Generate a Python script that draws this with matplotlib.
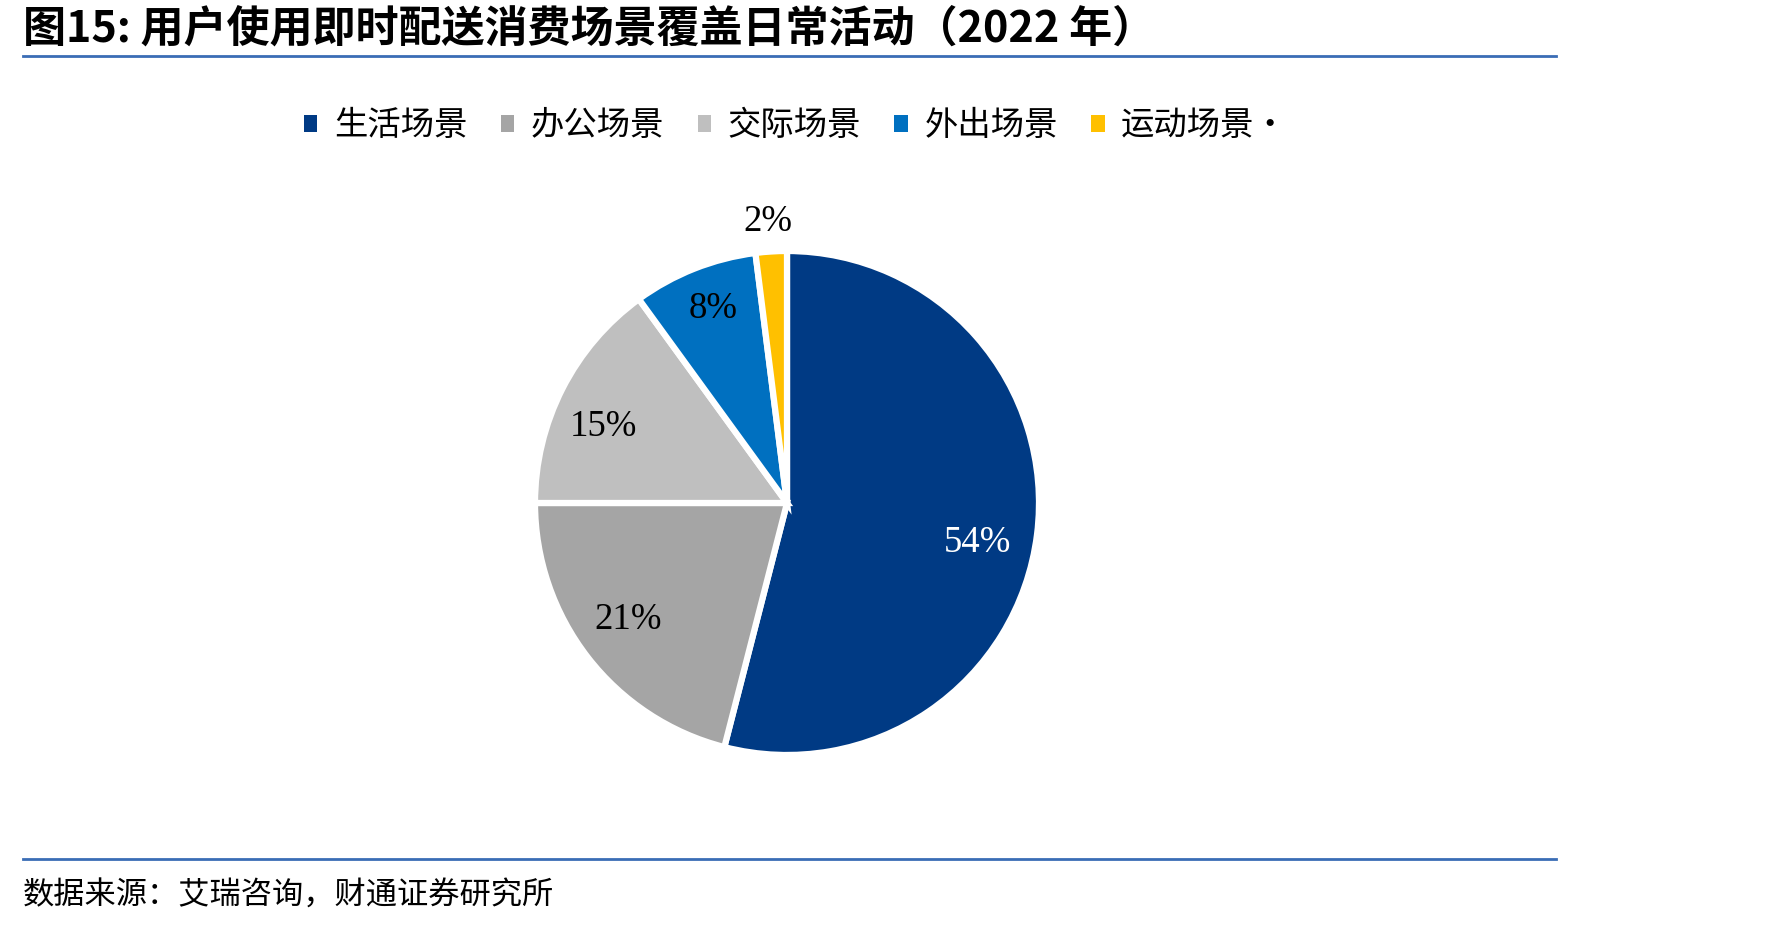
import matplotlib
matplotlib.use("Agg")
import matplotlib.pyplot as plt
from matplotlib.lines import Line2D
from matplotlib.patches import Patch

categories = ["生活场景", "办公场景", "交际场景", "外出场景", "运动场景·"]
values = [54, 21, 15, 8, 2]
colors = ["#003A84", "#A5A5A5", "#BFBFBF", "#0070C0", "#FFC000"]
title = "图15: 用户使用即时配送消费场景覆盖日常活动（2022 年）"
source = "数据来源：艾瑞咨询，财通证券研究所"
# label anchor positions in pie-radius units (text placement only)
label_pos = [(0.754, -0.156), (-0.629, -0.464), (-0.728, 0.304), (-0.295, 0.772), (-0.076, 1.116)]

W, H = 1771, 927
fig = plt.figure(figsize=(W / 100, H / 100), dpi=100)
cjk = ["Noto Sans CJK SC", "DejaVu Sans"]
serif = ["Liberation Serif", "DejaVu Serif"]

# title
fig.text(23 / W, 1 - 29 / H, title, fontsize=31, fontweight="bold", family=cjk,
         va="center", ha="left", color="black")
# rules
line_c = "#3A6DB5"
fig.add_artist(Line2D([23 / W, 1556 / W], [1 - 56 / H, 1 - 56 / H], color=line_c, lw=2))
fig.add_artist(Line2D([23 / W, 1556 / W], [1 - 859 / H, 1 - 859 / H], color=line_c, lw=2))
# source
fig.text(23 / W, 1 - 896 / H, source, fontsize=22.5, family=cjk, va="center", ha="left")

# pie
cx, cy, r = 787, 503, 252
ax = fig.add_axes([(cx - r) / W, (H - cy - r) / H, 2 * r / W, 2 * r / H])
wedges, texts, autotexts = ax.pie(values, colors=colors, startangle=90, counterclock=False,
                                  autopct="%d%%", pctdistance=0.78,
                                  wedgeprops=dict(edgecolor="white", linewidth=4.5),
                                  textprops=dict(fontsize=26.5, family=serif))
ax.set_xlim(-1, 1)
ax.set_ylim(-1, 1)
ax.set_aspect("equal")
ax.axis("off")
for t, p in zip(autotexts, label_pos):
    t.set_color("black")
    t.set_position(p)
    t.set_clip_on(False)
autotexts[0].set_color("white")

# legend
handles = [Patch(facecolor=c, edgecolor="none") for c in colors]
leg = fig.legend(handles, categories, loc="center", bbox_to_anchor=(796 / W, 1 - 126 / H),
                 ncol=5, frameon=False, prop={"family": cjk, "size": 24},
                 handlelength=0.4, handleheight=0.4, handletextpad=0.5, columnspacing=1.0)

fig.savefig("out.png", dpi=100)
